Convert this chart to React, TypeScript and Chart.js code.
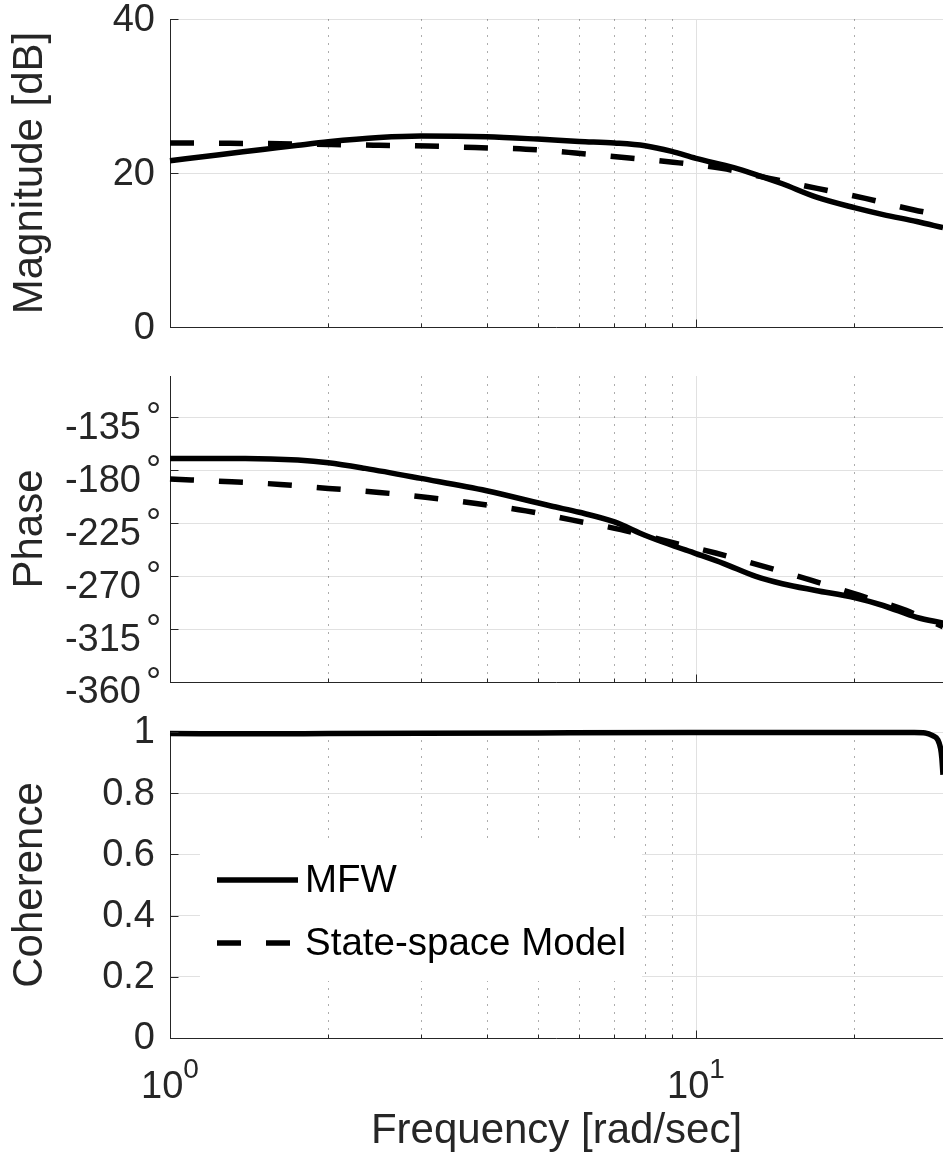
import React, { useEffect, useRef } from "react";
import { Chart, registerables } from "chart.js";

Chart.register(...registerables);

const FONT_FAMILY = "'Liberation Sans', Arial, Helvetica, sans-serif";
const TEXT_COLOR = "#262626";
const AXIS_COLOR = "#262626";
const GRID_COLOR = "#e1e1e1";
const MINOR_GRID_COLOR = "rgba(0,0,0,0.32)";
const W = 943;
const H = 1157;

// ---------- data ----------
const freqMin = 1;
const freqMax = 29.5;

const magMfwFreq = [1, 1.23, 1.5, 1.75, 2, 2.5, 3, 4, 5, 6, 7, 8, 9, 10, 11.8, 13, 14.6, 16.9, 20, 22.7, 26.3, 29.5];
const magMfwDb = [21.6, 22.35, 23.05, 23.6, 24.05, 24.6, 24.8, 24.7, 24.4, 24.1, 23.9, 23.55, 22.8, 21.9, 20.7, 19.8, 18.6, 16.9, 15.5, 14.6, 13.7, 12.9];

const magModelFreq = [1, 1.3, 1.62, 2, 2.5, 3.1, 3.8, 4.75, 5.9, 7.3, 9.05, 11.2, 13.8, 17, 21, 26, 29.5];
const magModelDb = [23.9, 23.85, 23.8, 23.7, 23.6, 23.5, 23.3, 23.1, 22.6, 22.0, 21.4, 20.6, 19.3, 18.0, 16.7, 15.2, 14.5];

const phaseMfwFreq = [1, 1.39, 1.75, 2, 2.35, 3, 4, 5.3, 6, 7, 8, 9, 10, 11.3, 13, 14.6, 16.9, 20, 22.7, 26.3, 29.5];
const phaseMfwDeg = [-170, -170, -171.4, -173.7, -178.5, -187, -197.5, -210.5, -215.8, -224, -235.3, -243.8, -250.9, -259.4, -270.3, -276.5, -282.2, -288.3, -295, -305, -310];

const phaseModelFreq = [1, 1.31, 1.62, 2, 2.5, 3.09, 3.82, 4.75, 5.83, 7.2, 8.93, 10.9, 13.4, 16.6, 20.5, 25.1, 29.5];
const phaseModelDeg = [-187.5, -189.9, -192.1, -195.5, -198.9, -203.2, -208.3, -214.6, -222.5, -230.5, -241, -250.4, -261.5, -273.7, -286.5, -299.2, -313];

const cohFreq = [1, 1.5, 2, 3, 5, 10, 20, 26, 27.3, 28.2, 28.85, 29.2, 29.35, 29.5];
const cohValues = [0.995, 0.994, 0.995, 0.996, 0.997, 0.998, 0.998, 0.998, 0.997, 0.988, 0.974, 0.945, 0.915, 0.86];

const magTicks = [0, 20, 40];
const phaseTicks = [-360, -315, -270, -225, -180, -135];
const cohTicks = [0, 0.2, 0.4, 0.6, 0.8, 1];

const xMinorGrid = [2, 3, 4, 5, 6, 7, 8, 9, 20];
const xMajorGrid = [10];
const xTickBases = ["10", "10"];
const xTickExps = ["0", "1"];
const xTickValues = [1, 10];

const legendLabels = ["MFW", "State-space Model"];
const xTitle = "Frequency [rad/sec]";
const magTitle = "Magnitude [dB]";
const phaseTitle = "Phase";
const cohTitle = "Coherence";

// ---------- helpers ----------
const pts = (xs: number[], ys: number[]) => xs.map((x, i) => ({ x, y: ys[i] }));
const al = (v: number) => Math.round(v) + 0.5;

function solidSet(label: string, data: any[]) {
  return {
    label,
    data,
    borderColor: "#000",
    backgroundColor: "#000",
    borderWidth: 5.5,
    pointRadius: 0,
    fill: false,
    cubicInterpolationMode: "monotone",
    clip: false,
    order: 2,
  };
}
function dashedSet(label: string, data: any[]) {
  return {
    ...solidSet(label, data),
    borderDash: [24, 25],
    borderCapStyle: "butt",
    order: 1,
  };
}

const axesPlugin = {
  id: "matlabAxes",
  beforeDatasetsDraw(chart: any) {
    const { ctx, chartArea: a } = chart;
    const xs = chart.scales.x;
    ctx.save();
    ctx.lineWidth = 1;
    ctx.strokeStyle = MINOR_GRID_COLOR;
    ctx.setLineDash([2, 6]);
    for (const v of xMinorGrid) {
      const px = al(xs.getPixelForValue(v));
      ctx.beginPath();
      ctx.moveTo(px, a.top);
      ctx.lineTo(px, a.bottom);
      ctx.stroke();
    }
    ctx.setLineDash([]);
    ctx.strokeStyle = GRID_COLOR;
    for (const v of xMajorGrid) {
      const px = al(xs.getPixelForValue(v));
      ctx.beginPath();
      ctx.moveTo(px, a.top);
      ctx.lineTo(px, a.bottom);
      ctx.stroke();
    }
    ctx.restore();
  },
  afterDraw(chart: any, _args: any, o: any) {
    const { ctx, chartArea: a } = chart;
    const xs = chart.scales.x;
    const ys = chart.scales.y;
    ctx.save();
    ctx.setLineDash([]);
    ctx.strokeStyle = AXIS_COLOR;
    ctx.lineWidth = 1;
    const by = al(a.bottom);
    ctx.beginPath();
    ctx.moveTo(a.left, by);
    ctx.lineTo(a.right, by);
    ctx.stroke();
    // x ticks (inward)
    for (const v of xMinorGrid) {
      const px = al(xs.getPixelForValue(v));
      ctx.beginPath();
      ctx.moveTo(px, by);
      ctx.lineTo(px, by - 4);
      ctx.stroke();
    }
    for (const v of xMajorGrid) {
      const px = al(xs.getPixelForValue(v));
      ctx.beginPath();
      ctx.moveTo(px, by);
      ctx.lineTo(px, by - 8);
      ctx.stroke();
    }
    // y ticks (inward)
    const lx = al(a.left);
    for (const t of ys.ticks) {
      const py = al(ys.getPixelForValue(t.value));
      ctx.beginPath();
      ctx.moveTo(lx, py);
      ctx.lineTo(lx + 8, py);
      ctx.stroke();
    }
    ctx.fillStyle = TEXT_COLOR;
    // degree superscripts
    if (o.degree) {
      ctx.font = `38px ${FONT_FAMILY}`;
      ctx.textAlign = "left";
      ctx.textBaseline = "alphabetic";
      for (const t of ys.ticks) {
        const py = ys.getPixelForValue(t.value);
        ctx.fillText("\u00B0", 146, py + 12);
      }
    }
    // legend
    if (o.legend) {
      ctx.fillStyle = "#ffffff";
      ctx.fillRect(200, 842, 442, 139);
      const ds = chart.data.datasets;
      const rows = [880, 943];
      const ends = [298, 290];
      for (let i = 0; i < 2; i++) {
        const d = ds[i];
        ctx.strokeStyle = d.borderColor;
        ctx.lineWidth = d.borderWidth;
        ctx.lineCap = "butt";
        ctx.setLineDash(d.borderDash || []);
        ctx.beginPath();
        ctx.moveTo(217, rows[i]);
        ctx.lineTo(ends[i], rows[i]);
        ctx.stroke();
        ctx.setLineDash([]);
        ctx.fillStyle = "#000";
        ctx.font = `38.5px ${FONT_FAMILY}`;
        ctx.textAlign = "left";
        ctx.textBaseline = "middle";
        ctx.fillText(legendLabels[i], 305, rows[i] + 1);
      }
    }
    // x tick labels with exponent + x title
    if (o.xLabels) {
      ctx.fillStyle = TEXT_COLOR;
      ctx.textAlign = "left";
      ctx.textBaseline = "alphabetic";
      for (let i = 0; i < xTickValues.length; i++) {
        const px = xs.getPixelForValue(xTickValues[i]);
        ctx.font = `38px ${FONT_FAMILY}`;
        const w1 = ctx.measureText(xTickBases[i]).width;
        ctx.font = `28px ${FONT_FAMILY}`;
        const w2 = ctx.measureText(xTickExps[i]).width;
        const start = px - (w1 + w2) / 2;
        ctx.font = `38px ${FONT_FAMILY}`;
        ctx.fillText(xTickBases[i], start, a.bottom + 60);
        ctx.font = `28px ${FONT_FAMILY}`;
        ctx.fillText(xTickExps[i], start + w1, a.bottom + 40);
      }
      ctx.font = `42px ${FONT_FAMILY}`;
      ctx.textAlign = "center";
      ctx.fillText(xTitle, (a.left + a.right) / 2, a.bottom + 105);
    }
    ctx.restore();
  },
};

type Panel = {
  top: number;
  bottom: number;
  yMin: number;
  yMax: number;
  ticks: number[];
  title: string;
  tickPadding: number;
  labelOffset: number;
  fmt: (v: number) => string;
  datasets: any[];
  degree?: boolean;
  legend?: boolean;
  xLabels?: boolean;
};

const panels: Panel[] = [
  {
    top: 19,
    bottom: 327,
    yMin: 0,
    yMax: 40,
    ticks: magTicks,
    title: magTitle,
    tickPadding: 15,
    labelOffset: 2,
    fmt: (v) => String(v),
    datasets: [
      solidSet(legendLabels[0], pts(magMfwFreq, magMfwDb)),
      dashedSet(legendLabels[1], pts(magModelFreq, magModelDb)),
    ],
  },
  {
    top: 376,
    bottom: 682,
    yMin: -360,
    yMax: -100,
    ticks: phaseTicks,
    title: phaseTitle,
    tickPadding: 29,
    labelOffset: 11,
    fmt: (v) => String(v),
    degree: true,
    datasets: [
      solidSet(legendLabels[0], pts(phaseMfwFreq, phaseMfwDeg)),
      dashedSet(legendLabels[1], pts(phaseModelFreq, phaseModelDeg)),
    ],
  },
  {
    top: 732,
    bottom: 1038,
    yMin: 0,
    yMax: 1,
    ticks: cohTicks,
    title: cohTitle,
    tickPadding: 15,
    labelOffset: 1,
    fmt: (v) => (v === 0 || v === 1 ? String(v) : v.toFixed(1)),
    legend: true,
    xLabels: true,
    datasets: [
      solidSet(legendLabels[0], pts(cohFreq, cohValues)),
      dashedSet(legendLabels[1], []),
    ],
  },
];

function makeConfig(p: Panel): any {
  return {
    type: "line",
    data: { datasets: p.datasets },
    plugins: [axesPlugin],
    options: {
      animation: false,
      responsive: false,
      maintainAspectRatio: false,
      devicePixelRatio: 1,
      events: [],
      layout: { padding: { top: p.top, bottom: H - p.bottom, left: 0, right: 0 } },
      plugins: {
        legend: { display: false },
        tooltip: { enabled: false },
        title: { display: false },
        matlabAxes: { degree: !!p.degree, legend: !!p.legend, xLabels: !!p.xLabels },
      },
      scales: {
        x: {
          type: "logarithmic",
          min: freqMin,
          max: freqMax,
          display: false,
        },
        y: {
          type: "linear",
          position: "left",
          min: p.yMin,
          max: p.yMax,
          afterBuildTicks: (scale: any) => {
            scale.ticks = p.ticks.map((v) => ({ value: v }));
          },
          afterFit: (scale: any) => {
            scale.width = 170;
            scale.paddingTop = 0;
            scale.paddingBottom = 0;
          },
          grid: {
            color: GRID_COLOR,
            lineWidth: 1,
            drawTicks: false,
          },
          border: { display: true, color: AXIS_COLOR, width: 1 },
          ticks: {
            autoSkip: false,
            maxRotation: 0,
            padding: p.tickPadding,
            labelOffset: p.labelOffset,
            color: TEXT_COLOR,
            font: { family: FONT_FAMILY, size: 38 },
            callback: (v: number) => p.fmt(v),
          },
          title: {
            display: true,
            text: p.title,
            color: TEXT_COLOR,
            font: { family: FONT_FAMILY, size: 42 },
            padding: { top: 5, bottom: 0 },
          },
        },
      },
    },
  };
}

export default function App() {
  const refs = useRef<(HTMLCanvasElement | null)[]>([]);
  useEffect(() => {
    document.body.style.margin = "0";
    const charts = panels.map((p, i) => new Chart(refs.current[i] as HTMLCanvasElement, makeConfig(p)));
    return () => charts.forEach((c) => c.destroy());
  }, []);
  return (
    <div style={{ position: "relative", width: W, height: H, background: "#ffffff", overflow: "hidden" }}>
      {panels.map((_, i) => (
        <canvas
          key={i}
          ref={(el) => {
            refs.current[i] = el;
          }}
          width={W}
          height={H}
          style={{ position: "absolute", left: 0, top: 0, width: W, height: H }}
        />
      ))}
    </div>
  );
}
